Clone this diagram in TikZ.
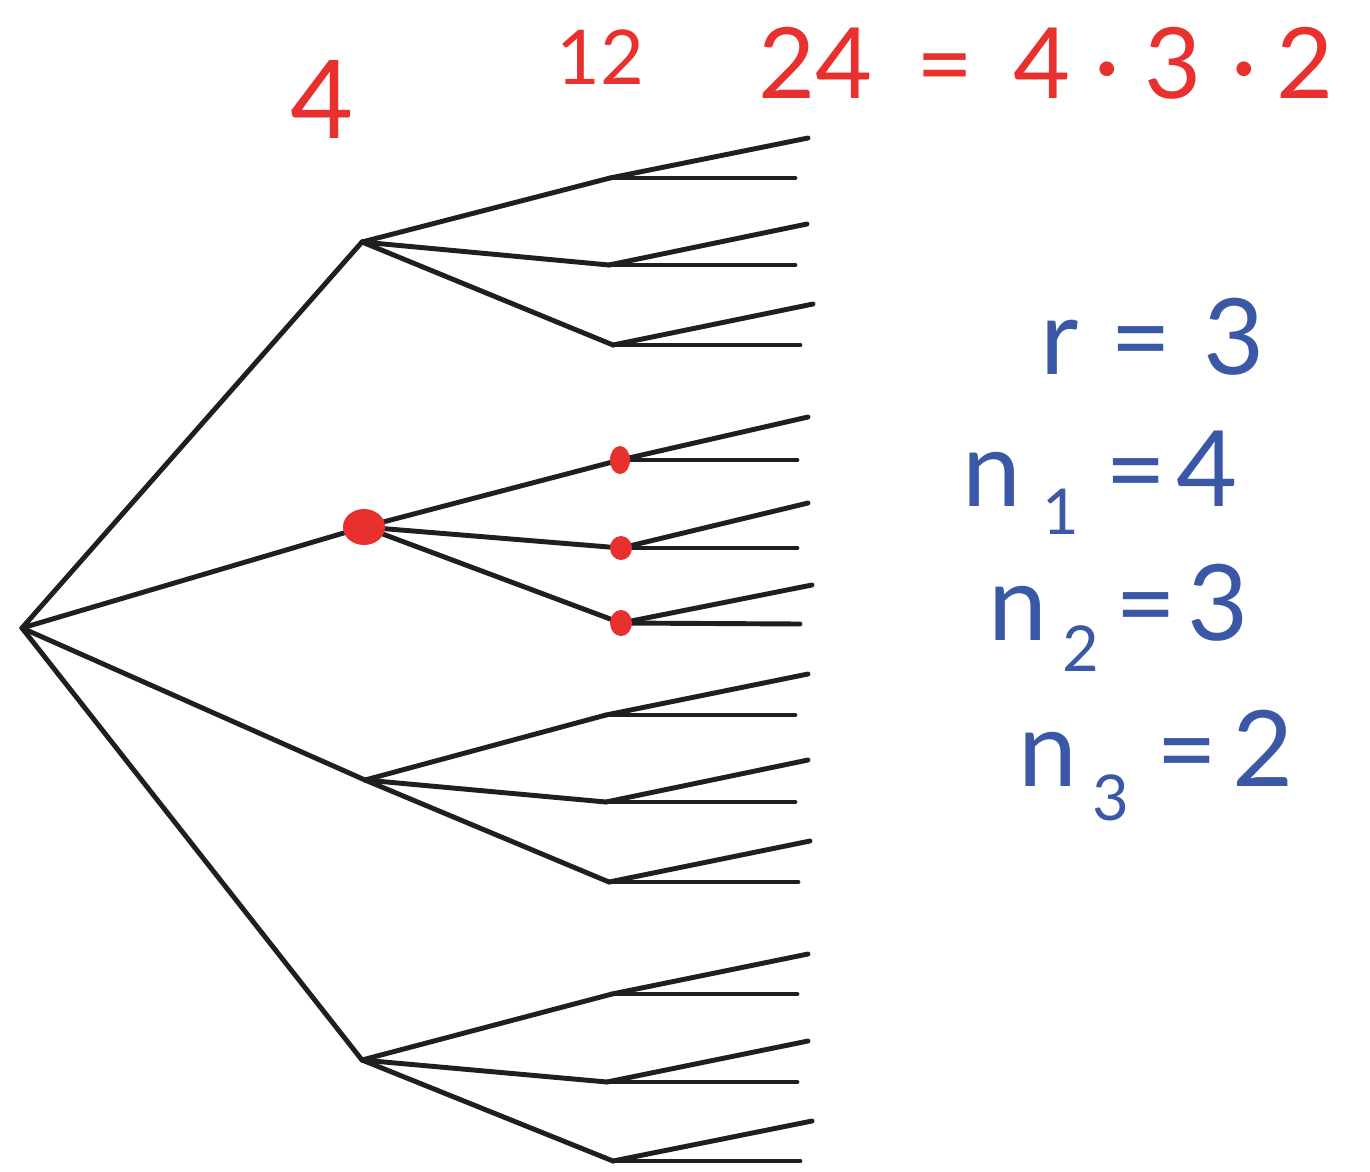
\documentclass[tikz,border=0pt]{standalone}
\usepackage{fontspec}
\setmainfont{Lato}
\definecolor{penred}{RGB}{232,48,46}
\definecolor{penblue}{RGB}{58,88,165}
\begin{document}
\begin{tikzpicture}[x=0.02cm,y=-0.02cm,
  branch/.style={line width=2.8pt,line cap=round,line join=round,black!88},
  dotmark/.style={fill=penred,draw=none},
  redlbl/.style={text=penred,inner sep=0pt,anchor=base west},
  bluelbl/.style={text=penblue,inner sep=0pt,anchor=base west,font=\fontsize{60}{64}\selectfont}]
\useasboundingbox (0,0) rectangle (1370,1171);
% root and level 1
\coordinate (R) at (22,628);
\coordinate (A) at (362,242);
\coordinate (B) at (364,527);
\coordinate (C) at (365,780);
\coordinate (D) at (362,1060);
% level 2
\coordinate (A1) at (610,178);  \coordinate (A2) at (609,265);  \coordinate (A3) at (613,345);
\coordinate (B1) at (620,460);  \coordinate (B2) at (621,548);  \coordinate (B3) at (621,623);
\coordinate (C1) at (606,715);  \coordinate (C2) at (606,802);  \coordinate (C3) at (609,882);
\coordinate (D1) at (612,994);  \coordinate (D2) at (607,1082); \coordinate (D3) at (613,1161);
% leaves
\foreach \n/\ux/\uy/\hx/\hy in {A1/808/138/795/178, A2/807/224/795/265, A3/813/304/800/345,
  B1/808/417/797/460, B2/808/503/797/548, B3/812/585/800/624,
  C1/808/674/795/715, C2/808/760/795/802, C3/810/841/798/882,
  D1/808/954/797/994, D2/808/1041/797/1082, D3/812/1121/800/1161}{
  \coordinate (\n u) at (\ux,\uy);
  \coordinate (\n h) at (\hx,\hy);
}
% edges
\foreach \p in {A,B,C,D}{\draw[branch] (R) -- (\p);}
\foreach \p in {A,B,C,D}{\foreach \k in {1,2,3}{\draw[branch] (\p) -- (\p\k);}}
\foreach \p in {A,B,C,D}{\foreach \k in {1,2,3}{
  \draw[branch] (\p\k) -- (\p\k u);
  \draw[branch] (\p\k) -- (\p\k h);}}
% red marks
\fill[dotmark] (B) ellipse [x radius=21,y radius=18];
\fill[dotmark] (B1) ellipse [x radius=10,y radius=14];
\fill[dotmark] (B2) ellipse [x radius=11,y radius=12];
\fill[dotmark] (B3) ellipse [x radius=11,y radius=13];
% red counts
\node[redlbl,font=\fontsize{62}{66}\selectfont] (c4) at (290,138) {4};
\node[redlbl,font=\fontsize{43}{46}\selectfont] (c12) at (556,84) {12};
\node[redlbl,font=\fontsize{56}{60}\selectfont] (c24) at (758,98) {24\hspace{0.45em}=\hspace{0.4em}4\hspace{0.25em}·\hspace{0.25em}3\hspace{0.3em}·\hspace{0.2em}2};
% blue notes
\node[bluelbl] (nr) at (1040,374) {r\hspace{0.3em}=\hspace{0.3em}3};
\node[bluelbl] (n1) at (962,506) {n\hspace{0.2em}{\fontsize{36}{40}\selectfont\raisebox{-0.45em}{1}}\hspace{0.25em}=\hspace{0.1em}4};
\node[bluelbl] (n2) at (988,640) {n\hspace{0.15em}{\fontsize{36}{40}\selectfont\raisebox{-0.5em}{2}}\hspace{0.15em}=\hspace{0.1em}3};
\node[bluelbl] (n3) at (1018,786) {n\hspace{0.15em}{\fontsize{36}{40}\selectfont\raisebox{-0.55em}{3}}\hspace{0.25em}=\hspace{0.15em}2};
\end{tikzpicture}
\end{document}
